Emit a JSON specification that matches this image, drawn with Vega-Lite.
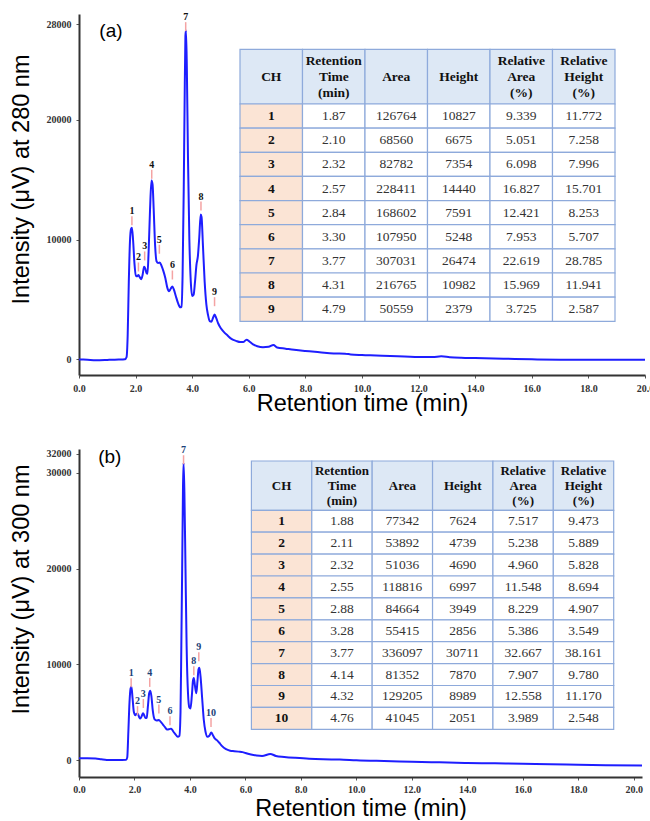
{
  "$schema": "https://vega.github.io/schema/vega-lite/v6.json",
  "background": "white",
  "padding": {"left": 8, "top": 12, "right": 0, "bottom": 0},
  "bounds": "flush",
  "spacing": 74,
  "config": {
    "view": {"stroke": null},
    "axis": {
      "grid": false,
      "domainColor": "#333333",
      "domainWidth": 2,
      "tickColor": "#555555",
      "tickWidth": 1,
      "tickSize": 3,
      "labelFont": "Liberation Serif",
      "labelFontWeight": "bold",
      "labelFontSize": 10,
      "labelColor": "#333333",
      "labelFlush": false,
      "labelOverlap": false,
      "titleFont": "Liberation Sans",
      "titleFontWeight": "normal",
      "titleFontSize": 23.5,
      "titleColor": "#000000"
    }
  },
  "datasets": {
    "curveA": [
      {"t": 0.0, "v": 0}, {"t": 0.3, "v": -30}, {"t": 0.6, "v": -60}, {"t": 1.0, "v": -40}, {"t": 1.4, "v": -10},
      {"t": 1.62, "v": 20}, {"t": 1.68, "v": 200}, {"t": 1.72, "v": 2000}, {"t": 1.76, "v": 6500}, {"t": 1.8, "v": 9800},
      {"t": 1.84, "v": 10900}, {"t": 1.87, "v": 11000}, {"t": 1.91, "v": 10000}, {"t": 1.96, "v": 8000}, {"t": 2.01, "v": 7000},
      {"t": 2.06, "v": 6950}, {"t": 2.1, "v": 7050}, {"t": 2.15, "v": 6850}, {"t": 2.2, "v": 6700}, {"t": 2.25, "v": 7100},
      {"t": 2.3, "v": 7750}, {"t": 2.34, "v": 7600}, {"t": 2.39, "v": 7200}, {"t": 2.42, "v": 7150}, {"t": 2.46, "v": 9000},
      {"t": 2.51, "v": 12500}, {"t": 2.56, "v": 14950}, {"t": 2.6, "v": 14600}, {"t": 2.64, "v": 12500}, {"t": 2.69, "v": 9500},
      {"t": 2.74, "v": 8200}, {"t": 2.8, "v": 8050}, {"t": 2.85, "v": 8100}, {"t": 2.92, "v": 7800}, {"t": 2.98, "v": 7400},
      {"t": 3.05, "v": 6800}, {"t": 3.12, "v": 6000}, {"t": 3.18, "v": 5700}, {"t": 3.24, "v": 5900}, {"t": 3.3, "v": 6100},
      {"t": 3.35, "v": 5850}, {"t": 3.42, "v": 5300}, {"t": 3.5, "v": 4700}, {"t": 3.58, "v": 4350}, {"t": 3.62, "v": 4400},
      {"t": 3.66, "v": 7000}, {"t": 3.7, "v": 14000}, {"t": 3.73, "v": 21000}, {"t": 3.76, "v": 27000}, {"t": 3.78, "v": 27500},
      {"t": 3.81, "v": 24500}, {"t": 3.85, "v": 17000}, {"t": 3.9, "v": 10000}, {"t": 3.95, "v": 6500}, {"t": 4.0, "v": 5300},
      {"t": 4.05, "v": 5400}, {"t": 4.1, "v": 6500}, {"t": 4.15, "v": 7900}, {"t": 4.2, "v": 8600}, {"t": 4.25, "v": 10200},
      {"t": 4.3, "v": 12100}, {"t": 4.33, "v": 11900}, {"t": 4.38, "v": 9500}, {"t": 4.44, "v": 6500}, {"t": 4.5, "v": 4600},
      {"t": 4.56, "v": 3700}, {"t": 4.62, "v": 3200}, {"t": 4.68, "v": 3150}, {"t": 4.74, "v": 3500}, {"t": 4.79, "v": 3750},
      {"t": 4.85, "v": 3450}, {"t": 4.92, "v": 3000}, {"t": 5.0, "v": 2650}, {"t": 5.1, "v": 2350}, {"t": 5.25, "v": 2000},
      {"t": 5.4, "v": 1700}, {"t": 5.55, "v": 1550}, {"t": 5.7, "v": 1450}, {"t": 5.8, "v": 1450}, {"t": 5.92, "v": 1650},
      {"t": 6.02, "v": 1500}, {"t": 6.15, "v": 1250}, {"t": 6.3, "v": 1100}, {"t": 6.5, "v": 1020}, {"t": 6.7, "v": 1050},
      {"t": 6.87, "v": 1200}, {"t": 7.0, "v": 1000}, {"t": 7.3, "v": 900}, {"t": 7.6, "v": 800}, {"t": 8.0, "v": 700},
      {"t": 8.5, "v": 600}, {"t": 9.0, "v": 500}, {"t": 9.4, "v": 480}, {"t": 9.6, "v": 420}, {"t": 10.0, "v": 370},
      {"t": 10.5, "v": 330}, {"t": 11.0, "v": 280}, {"t": 11.5, "v": 250}, {"t": 12.0, "v": 210}, {"t": 12.5, "v": 200},
      {"t": 12.8, "v": 260}, {"t": 13.1, "v": 190}, {"t": 13.5, "v": 140}, {"t": 14.0, "v": 110}, {"t": 15.0, "v": 60},
      {"t": 16.0, "v": 10}, {"t": 17.0, "v": -20}, {"t": 18.0, "v": -30}, {"t": 19.0, "v": -30}, {"t": 20.0, "v": -20}
    ],
    "curveB": [
      {"t": 0.0, "v": 200}, {"t": 0.3, "v": 200}, {"t": 0.6, "v": 180}, {"t": 0.8, "v": 100}, {"t": 1.0, "v": 30},
      {"t": 1.4, "v": 20}, {"t": 1.7, "v": 40}, {"t": 1.74, "v": 300}, {"t": 1.78, "v": 3000}, {"t": 1.82, "v": 6000},
      {"t": 1.86, "v": 7500}, {"t": 1.89, "v": 7700}, {"t": 1.93, "v": 6500}, {"t": 1.98, "v": 5000}, {"t": 2.03, "v": 4700},
      {"t": 2.08, "v": 4850}, {"t": 2.12, "v": 4850}, {"t": 2.17, "v": 4500}, {"t": 2.21, "v": 4350}, {"t": 2.26, "v": 4600},
      {"t": 2.31, "v": 4900}, {"t": 2.35, "v": 4700}, {"t": 2.4, "v": 4400}, {"t": 2.44, "v": 4450}, {"t": 2.49, "v": 5800},
      {"t": 2.53, "v": 7000}, {"t": 2.57, "v": 7250}, {"t": 2.61, "v": 6700}, {"t": 2.66, "v": 5200}, {"t": 2.72, "v": 4300},
      {"t": 2.8, "v": 4150}, {"t": 2.88, "v": 4200}, {"t": 2.95, "v": 4000}, {"t": 3.02, "v": 3750}, {"t": 3.1, "v": 3450},
      {"t": 3.18, "v": 3200}, {"t": 3.26, "v": 3250}, {"t": 3.32, "v": 3300}, {"t": 3.4, "v": 3000}, {"t": 3.48, "v": 2700},
      {"t": 3.56, "v": 2450}, {"t": 3.62, "v": 2550}, {"t": 3.66, "v": 5000}, {"t": 3.69, "v": 12000}, {"t": 3.72, "v": 20000},
      {"t": 3.75, "v": 28500}, {"t": 3.77, "v": 31100}, {"t": 3.8, "v": 28000}, {"t": 3.84, "v": 20000}, {"t": 3.88, "v": 12000},
      {"t": 3.93, "v": 7000}, {"t": 3.98, "v": 5500}, {"t": 4.02, "v": 5400}, {"t": 4.07, "v": 6800}, {"t": 4.11, "v": 8300},
      {"t": 4.14, "v": 8600}, {"t": 4.18, "v": 7800}, {"t": 4.23, "v": 7000}, {"t": 4.27, "v": 8200}, {"t": 4.31, "v": 9500},
      {"t": 4.34, "v": 9650}, {"t": 4.38, "v": 8800}, {"t": 4.44, "v": 6500}, {"t": 4.5, "v": 4200}, {"t": 4.56, "v": 3000},
      {"t": 4.63, "v": 2450}, {"t": 4.7, "v": 2550}, {"t": 4.77, "v": 2900}, {"t": 4.83, "v": 2600}, {"t": 4.9, "v": 2250},
      {"t": 4.97, "v": 2100}, {"t": 5.05, "v": 1850}, {"t": 5.15, "v": 1500}, {"t": 5.3, "v": 1150}, {"t": 5.45, "v": 1000},
      {"t": 5.6, "v": 950}, {"t": 5.75, "v": 900}, {"t": 5.9, "v": 850}, {"t": 6.0, "v": 750}, {"t": 6.2, "v": 600},
      {"t": 6.4, "v": 500}, {"t": 6.6, "v": 450}, {"t": 6.9, "v": 650}, {"t": 7.1, "v": 450}, {"t": 7.4, "v": 350},
      {"t": 7.8, "v": 250}, {"t": 8.3, "v": 150}, {"t": 8.8, "v": 100}, {"t": 9.4, "v": 80}, {"t": 10.0, "v": 0},
      {"t": 11.0, "v": -80}, {"t": 12.0, "v": -150}, {"t": 13.0, "v": -220}, {"t": 14.0, "v": -280}, {"t": 15.0, "v": -320},
      {"t": 16.0, "v": -370}, {"t": 17.0, "v": -420}, {"t": 18.0, "v": -480}, {"t": 19.0, "v": -520}, {"t": 20.3, "v": -560}
    ],
    "peaksA": [
      {"ch": "1", "t": 1.87, "v": 11050}, {"ch": "2", "t": 2.10, "v": 7180}, {"ch": "3", "t": 2.32, "v": 8100},
      {"ch": "4", "t": 2.57, "v": 14920}, {"ch": "5", "t": 2.84, "v": 8660}, {"ch": "6", "t": 3.30, "v": 6510},
      {"ch": "7", "t": 3.77, "v": 27250}, {"ch": "8", "t": 4.31, "v": 12270}, {"ch": "9", "t": 4.79, "v": 4280}
    ],
    "peaksB": [
      {"ch": "1", "t": 1.88, "v": 7400}, {"ch": "2", "t": 2.11, "v": 4500}, {"ch": "3", "t": 2.32, "v": 5250},
      {"ch": "4", "t": 2.55, "v": 7450}, {"ch": "5", "t": 2.88, "v": 4670}, {"ch": "6", "t": 3.28, "v": 3450},
      {"ch": "7", "t": 3.77, "v": 30700}, {"ch": "8", "t": 4.14, "v": 8670}, {"ch": "9", "t": 4.32, "v": 10140},
      {"ch": "10", "t": 4.76, "v": 3270}
    ],
    "cols": [
      {"key": "ch", "label": "CH"},
      {"key": "rt", "label": "Retention\nTime\n(min)"},
      {"key": "area", "label": "Area"},
      {"key": "height", "label": "Height"},
      {"key": "rel_area", "label": "Relative\nArea\n(%)"},
      {"key": "rel_height", "label": "Relative\nHeight\n(%)"}
    ],
    "tableA": [
      {"ch": 1, "rt": "1.87", "area": "126764", "height": "10827", "rel_area": "9.339", "rel_height": "11.772"},
      {"ch": 2, "rt": "2.10", "area": "68560", "height": "6675", "rel_area": "5.051", "rel_height": "7.258"},
      {"ch": 3, "rt": "2.32", "area": "82782", "height": "7354", "rel_area": "6.098", "rel_height": "7.996"},
      {"ch": 4, "rt": "2.57", "area": "228411", "height": "14440", "rel_area": "16.827", "rel_height": "15.701"},
      {"ch": 5, "rt": "2.84", "area": "168602", "height": "7591", "rel_area": "12.421", "rel_height": "8.253"},
      {"ch": 6, "rt": "3.30", "area": "107950", "height": "5248", "rel_area": "7.953", "rel_height": "5.707"},
      {"ch": 7, "rt": "3.77", "area": "307031", "height": "26474", "rel_area": "22.619", "rel_height": "28.785"},
      {"ch": 8, "rt": "4.31", "area": "216765", "height": "10982", "rel_area": "15.969", "rel_height": "11.941"},
      {"ch": 9, "rt": "4.79", "area": "50559", "height": "2379", "rel_area": "3.725", "rel_height": "2.587"}
    ],
    "tableB": [
      {"ch": 1, "rt": "1.88", "area": "77342", "height": "7624", "rel_area": "7.517", "rel_height": "9.473"},
      {"ch": 2, "rt": "2.11", "area": "53892", "height": "4739", "rel_area": "5.238", "rel_height": "5.889"},
      {"ch": 3, "rt": "2.32", "area": "51036", "height": "4690", "rel_area": "4.960", "rel_height": "5.828"},
      {"ch": 4, "rt": "2.55", "area": "118816", "height": "6997", "rel_area": "11.548", "rel_height": "8.694"},
      {"ch": 5, "rt": "2.88", "area": "84664", "height": "3949", "rel_area": "8.229", "rel_height": "4.907"},
      {"ch": 6, "rt": "3.28", "area": "55415", "height": "2856", "rel_area": "5.386", "rel_height": "3.549"},
      {"ch": 7, "rt": "3.77", "area": "336097", "height": "30711", "rel_area": "32.667", "rel_height": "38.161"},
      {"ch": 8, "rt": "4.14", "area": "81352", "height": "7870", "rel_area": "7.907", "rel_height": "9.780"},
      {"ch": 9, "rt": "4.32", "area": "129205", "height": "8989", "rel_area": "12.558", "rel_height": "11.170"},
      {"ch": 10, "rt": "4.76", "area": "41045", "height": "2051", "rel_area": "3.989", "rel_height": "2.548"}
    ]
  },
  "vconcat": [
    {
      "width": 566,
      "height": 361,
      "resolve": {"scale": {"x": "independent", "y": "independent"}, "axis": {"x": "independent", "y": "independent"}},
      "layer": [
        {
          "layer": [
            {
              "data": {"name": "curveA"},
              "mark": {"type": "line", "color": "#1e1eff", "strokeWidth": 2, "interpolate": "monotone"},
              "encoding": {
                "x": {"field": "t", "type": "quantitative", "title": "Retention time (min)",
                  "scale": {"domain": [0, 20], "nice": false, "zero": false},
                  "axis": {"values": [0,0.5,1,1.5,2,2.5,3,3.5,4,4.5,5,5.5,6,6.5,7,7.5,8,8.5,9,9.5,10,10.5,11,11.5,12,12.5,13,13.5,14,14.5,15,15.5,16,16.5,17,17.5,18,18.5,19,19.5,20],
                    "labelExpr": "datum.value % 2 === 0 ? format(datum.value, '.1f') : ''", "labelOverlap": false, "labelPadding": 5, "titleY": 35, "titleBaseline": "alphabetic"}},
                "y": {"field": "v", "type": "quantitative", "title": "Intensity (μV) at 280 nm",
                  "scale": {"domain": [-1300, 28850], "nice": false, "zero": false},
                  "axis": {"values": [0, 10000, 20000, 28000], "format": "d", "labelOverlap": false, "labelPadding": 5, "titleX": -51, "titleY": 165, "titleBaseline": "alphabetic"}}
              }
            },
            {
              "data": {"name": "peaksA"},
              "mark": {"type": "rule", "color": "#f4a3a3", "strokeWidth": 1.5, "yOffset": -2, "y2Offset": -11},
              "encoding": {"x": {"field": "t", "type": "quantitative"}, "y": {"field": "v", "type": "quantitative"}, "y2": {"field": "v"}}
            },
            {
              "data": {"name": "peaksA"},
              "mark": {"type": "text", "font": "Liberation Serif", "fontWeight": "bold", "fontSize": 10, "baseline": "bottom", "dy": -11, "color": "#111111"},
              "encoding": {"x": {"field": "t", "type": "quantitative"}, "y": {"field": "v", "type": "quantitative"}, "text": {"field": "ch", "type": "nominal"}}
            },
            {
              "data": {"values": [{"panel": "(a)"}]},
              "mark": {"type": "text", "font": "Liberation Sans", "fontSize": 19, "align": "center", "baseline": "middle", "color": "#000000"},
              "encoding": {"x": {"datum": 1.13, "type": "quantitative"}, "y": {"datum": 27470, "type": "quantitative"}, "text": {"field": "panel", "type": "nominal"}}
            }
          ]
        },
        {
          "data": {"name": "cols"},
          "encoding": {
            "x": {"field": "key", "type": "nominal", "axis": null, "scale": {"domain": ["ch", "rt", "area", "height", "rel_area", "rel_height"], "range": [161, 536], "paddingInner": 0, "paddingOuter": 0}},
            "y": {"datum": "h", "type": "nominal", "axis": null, "scale": {"domain": ["h"], "range": [35.3, 90], "paddingInner": 0, "paddingOuter": 0}}
          },
          "layer": [
            {"mark": {"type": "rect", "fill": "#dde8f5", "stroke": "#8eaadb", "strokeWidth": 1.2}},
            {"transform": [{"filter": "indexof(datum.label, '\\n') >= 0"}],
             "mark": {"type": "text", "font": "Liberation Serif", "fontWeight": "bold", "fontSize": 13.5, "lineBreak": "\n", "lineHeight": 16, "baseline": "middle", "dy": -16, "color": "#111111"},
             "encoding": {"text": {"field": "label", "type": "nominal"}}},
            {"transform": [{"filter": "indexof(datum.label, '\\n') < 0"}],
             "mark": {"type": "text", "font": "Liberation Serif", "fontWeight": "bold", "fontSize": 13.5, "baseline": "middle", "color": "#111111"},
             "encoding": {"text": {"field": "label", "type": "nominal"}}}
          ]
        },
        {
          "data": {"name": "tableA"},
          "encoding": {
            "x": {"datum": "ch", "type": "nominal", "axis": null, "scale": {"domain": ["ch", "rt", "area", "height", "rel_area", "rel_height"], "range": [161, 536], "paddingInner": 0, "paddingOuter": 0}},
            "y": {"field": "ch", "type": "nominal", "axis": null, "scale": {"domain": [1,2,3,4,5,6,7,8,9], "range": [90, 307.3], "paddingInner": 0, "paddingOuter": 0}}
          },
          "layer": [
            {"mark": {"type": "rect", "fill": "#fbe4d5", "stroke": "#8eaadb", "strokeWidth": 1.2}},
            {"mark": {"type": "text", "font": "Liberation Serif", "fontWeight": "bold", "fontSize": 13.5, "baseline": "middle", "color": "#111111"},
             "encoding": {"text": {"field": "ch", "type": "nominal"}}}
          ]
        },
        {
          "data": {"name": "tableA"},
          "transform": [{"fold": ["rt", "area", "height", "rel_area", "rel_height"], "as": ["key", "value"]}],
          "encoding": {
            "x": {"field": "key", "type": "nominal", "axis": null, "scale": {"domain": ["ch", "rt", "area", "height", "rel_area", "rel_height"], "range": [161, 536], "paddingInner": 0, "paddingOuter": 0}},
            "y": {"field": "ch", "type": "nominal", "axis": null, "scale": {"domain": [1,2,3,4,5,6,7,8,9], "range": [90, 307.3], "paddingInner": 0, "paddingOuter": 0}}
          },
          "layer": [
            {"mark": {"type": "rect", "fill": "#ffffff", "stroke": "#8eaadb", "strokeWidth": 1.2}},
            {"mark": {"type": "text", "font": "Liberation Serif", "fontSize": 13.5, "baseline": "middle", "color": "#333333"},
             "encoding": {"text": {"field": "value", "type": "nominal"}}}
          ]
        }
      ]
    },
    {
      "width": 563,
      "height": 328,
      "resolve": {"scale": {"x": "independent", "y": "independent"}, "axis": {"x": "independent", "y": "independent"}},
      "layer": [
        {
          "layer": [
            {
              "data": {"name": "curveB"},
              "mark": {"type": "line", "color": "#1e1eff", "strokeWidth": 2, "interpolate": "monotone"},
              "encoding": {
                "x": {"field": "t", "type": "quantitative", "title": "Retention time (min)",
                  "scale": {"domain": [0, 20.3], "nice": false, "zero": false},
                  "axis": {"values": [0,0.5,1,1.5,2,2.5,3,3.5,4,4.5,5,5.5,6,6.5,7,7.5,8,8.5,9,9.5,10,10.5,11,11.5,12,12.5,13,13.5,14,14.5,15,15.5,16,16.5,17,17.5,18,18.5,19,19.5,20],
                    "labelExpr": "datum.value % 2 === 0 ? format(datum.value, '.1f') : ''", "labelOverlap": false, "labelPadding": 4, "titleY": 38, "titleBaseline": "alphabetic"}},
                "y": {"field": "v", "type": "quantitative", "title": "Intensity (μV) at 300 nm",
                  "scale": {"domain": [-1750, 32500], "nice": false, "zero": false},
                  "axis": {"values": [0, 10000, 20000, 30000, 32000], "format": "d", "labelOverlap": false, "labelPadding": 5, "titleX": -51, "titleY": 140, "titleBaseline": "alphabetic"}}
              }
            },
            {
              "data": {"name": "peaksB"},
              "mark": {"type": "rule", "color": "#f4a3a3", "strokeWidth": 1.5, "yOffset": -2, "y2Offset": -11},
              "encoding": {"x": {"field": "t", "type": "quantitative"}, "y": {"field": "v", "type": "quantitative"}, "y2": {"field": "v"}}
            },
            {
              "data": {"name": "peaksB"},
              "mark": {"type": "text", "font": "Liberation Serif", "fontWeight": "bold", "fontSize": 10, "baseline": "bottom", "dy": -11, "color": "#203f78"},
              "encoding": {"x": {"field": "t", "type": "quantitative"}, "y": {"field": "v", "type": "quantitative"}, "text": {"field": "ch", "type": "nominal"}}
            },
            {
              "data": {"values": [{"panel": "(b)"}]},
              "mark": {"type": "text", "font": "Liberation Sans", "fontSize": 19, "align": "center", "baseline": "middle", "color": "#000000"},
              "encoding": {"x": {"datum": 1.11, "type": "quantitative"}, "y": {"datum": 31700, "type": "quantitative"}, "text": {"field": "panel", "type": "nominal"}}
            }
          ]
        },
        {
          "data": {"name": "cols"},
          "encoding": {
            "x": {"field": "key", "type": "nominal", "axis": null, "scale": {"domain": ["ch", "rt", "area", "height", "rel_area", "rel_height"], "range": [172.4, 534.7], "paddingInner": 0, "paddingOuter": 0}},
            "y": {"datum": "h", "type": "nominal", "axis": null, "scale": {"domain": ["h"], "range": [12, 61.3], "paddingInner": 0, "paddingOuter": 0}}
          },
          "layer": [
            {"mark": {"type": "rect", "fill": "#dde8f5", "stroke": "#8eaadb", "strokeWidth": 1.2}},
            {"transform": [{"filter": "indexof(datum.label, '\\n') >= 0"}],
             "mark": {"type": "text", "font": "Liberation Serif", "fontWeight": "bold", "fontSize": 13, "lineBreak": "\n", "lineHeight": 15, "baseline": "middle", "dy": -15, "color": "#111111"},
             "encoding": {"text": {"field": "label", "type": "nominal"}}},
            {"transform": [{"filter": "indexof(datum.label, '\\n') < 0"}],
             "mark": {"type": "text", "font": "Liberation Serif", "fontWeight": "bold", "fontSize": 13, "baseline": "middle", "color": "#111111"},
             "encoding": {"text": {"field": "label", "type": "nominal"}}}
          ]
        },
        {
          "data": {"name": "tableB"},
          "encoding": {
            "x": {"datum": "ch", "type": "nominal", "axis": null, "scale": {"domain": ["ch", "rt", "area", "height", "rel_area", "rel_height"], "range": [172.4, 534.7], "paddingInner": 0, "paddingOuter": 0}},
            "y": {"field": "ch", "type": "nominal", "axis": null, "scale": {"domain": [1,2,3,4,5,6,7,8,9,10], "range": [61.3, 280.3], "paddingInner": 0, "paddingOuter": 0}}
          },
          "layer": [
            {"mark": {"type": "rect", "fill": "#fbe4d5", "stroke": "#8eaadb", "strokeWidth": 1.2}},
            {"mark": {"type": "text", "font": "Liberation Serif", "fontWeight": "bold", "fontSize": 13.5, "baseline": "middle", "color": "#111111"},
             "encoding": {"text": {"field": "ch", "type": "nominal"}}}
          ]
        },
        {
          "data": {"name": "tableB"},
          "transform": [{"fold": ["rt", "area", "height", "rel_area", "rel_height"], "as": ["key", "value"]}],
          "encoding": {
            "x": {"field": "key", "type": "nominal", "axis": null, "scale": {"domain": ["ch", "rt", "area", "height", "rel_area", "rel_height"], "range": [172.4, 534.7], "paddingInner": 0, "paddingOuter": 0}},
            "y": {"field": "ch", "type": "nominal", "axis": null, "scale": {"domain": [1,2,3,4,5,6,7,8,9,10], "range": [61.3, 280.3], "paddingInner": 0, "paddingOuter": 0}}
          },
          "layer": [
            {"mark": {"type": "rect", "fill": "#ffffff", "stroke": "#8eaadb", "strokeWidth": 1.2}},
            {"mark": {"type": "text", "font": "Liberation Serif", "fontSize": 13.5, "baseline": "middle", "color": "#333333"},
             "encoding": {"text": {"field": "value", "type": "nominal"}}}
          ]
        }
      ]
    }
  ]
}
